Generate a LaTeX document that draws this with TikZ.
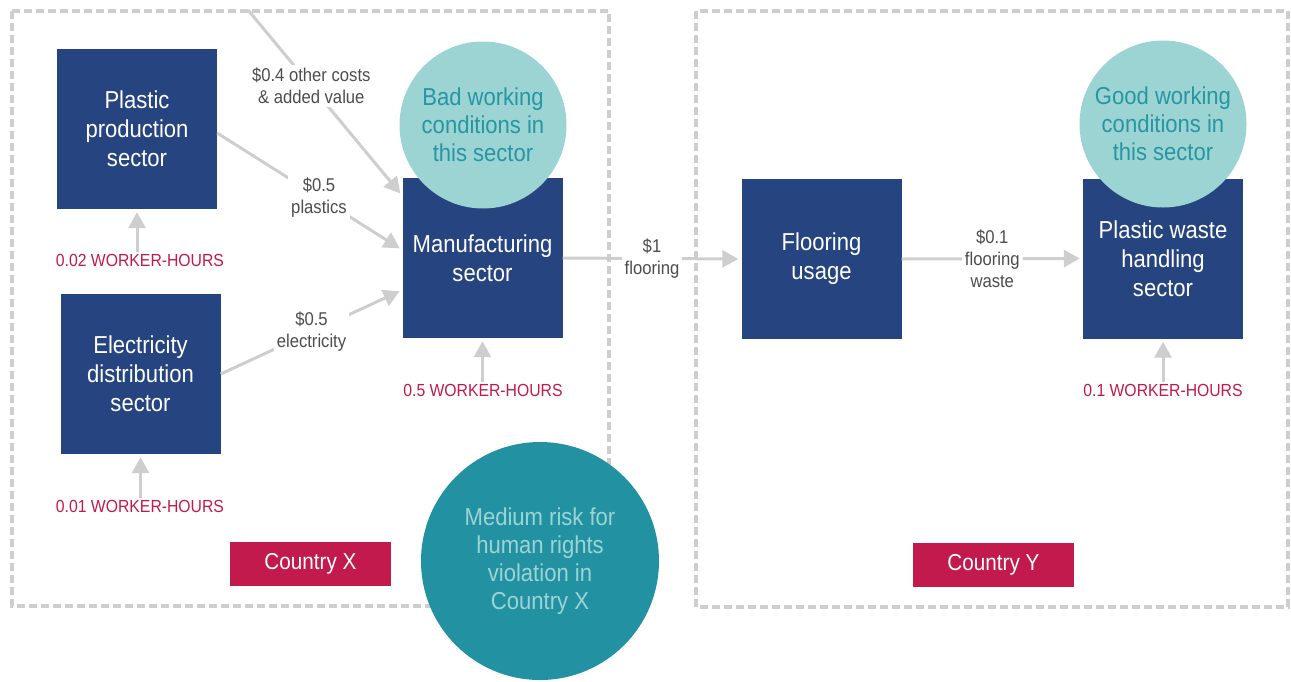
\documentclass[tikz,border=0pt]{standalone}
\usepackage{fontspec}
\setmainfont{Liberation Sans}[FakeStretch=0.9]
\usetikzlibrary{arrows.meta, positioning, calc}

\definecolor{sectorblue}{RGB}{38,69,128}
\definecolor{crimson}{RGB}{194,26,76}
\definecolor{paleteal}{RGB}{156,212,212}
\definecolor{deepteal}{RGB}{34,146,162}
\definecolor{darkteal}{RGB}{38,150,163}
\definecolor{linegrey}{RGB}{206,206,206}
\definecolor{textgrey}{RGB}{77,77,77}

\tikzset{
    sector/.style  = {fill=sectorblue, text=white, align=center, inner sep=0pt,
                      minimum width=160pt, minimum height=160pt,
                      font=\fontsize{24.5}{29}\selectfont},
    bubble/.style  = {circle, fill=paleteal, text=darkteal, align=center, inner sep=0pt,
                      minimum size=167pt, font=\fontsize{24.5}{28}\selectfont},
    border/.style  = {draw=linegrey, line width=3.5pt, dash pattern=on 8pt off 4pt},
    flow/.style    = {draw=linegrey, line width=3pt, shorten >=3pt,
                      -{Triangle[length=16pt, width=17pt]}},
    money/.style   = {fill=white, text=textgrey, align=center, inner sep=3pt,
                      font=\fontsize{18.5}{22}\selectfont},
    hours/.style   = {text=crimson, inner sep=2pt, font=\fontsize{17.5}{20}\selectfont},
    country/.style = {fill=crimson, text=white, minimum width=161pt, minimum height=44pt,
                      inner sep=0pt, font=\fontsize{23}{26}\selectfont}
}

\begin{document}
\begin{tikzpicture}[x=1pt, y=-1pt]

    \useasboundingbox (0,0) rectangle (1291,681);

    % country borders
    \draw[border] (12,11) rectangle (609,606);
    \draw[border] (696,11) rectangle (1288,607);

    % sectors
    \node[sector] (plastic)  at (137,129)   {Plastic\\production\\sector};
    \node[sector] (elec)     at (140.5,374) {Electricity\\distribution\\sector};
    \node[sector] (manuf)    at (482.5,258) {Manufacturing\\sector};
    \node[sector] (flooring) at (821.5,259) {Flooring\\usage};
    \node[sector] (waste)    at (1163,258.5) {Plastic waste\\handling\\sector};

    \coordinate (costs) at (248,10);

    % money flows
    \draw[flow] (costs) -- node[money, pos=.41] {\$0.4 other costs\\\& added value}
        ([yshift=-18pt]manuf.north west);
    \draw[flow] (plastic.east |- 0,133) -- node[money, pos=.55] {\$0.5\\plastics}
        ([yshift=8pt]manuf.west);
    \draw[flow] (elec.east) -- node[money, pos=.5] {\$0.5\\electricity}
        ([yshift=-32pt]manuf.west);
    \draw[flow] (manuf.east) -- node[money] {\$1\\flooring} (flooring.west);
    \draw[flow] (flooring.east) -- node[money] {\$0.1\\flooring\\waste} (waste.west);

    % labour
    \node[hours] (wh1) at (140,260)  {0.02 WORKER-HOURS};
    \node[hours] (wh2) at (140,506)  {0.01 WORKER-HOURS};
    \node[hours] (wh3) at (483,390)  {0.5 WORKER-HOURS};
    \node[hours] (wh4) at (1163,390) {0.1 WORKER-HOURS};
    \draw[flow] (wh1.north -| plastic.south) -- (plastic.south);
    \draw[flow] (wh2.north -| elec.south) -- (elec.south);
    \draw[flow] (wh3.north -| manuf.south) -- (manuf.south);
    \draw[flow] (wh4.north -| waste.south) -- (waste.south);

    % working conditions
    \node[bubble] (bad)  at (483,125)  {Bad working\\conditions in\\this sector};
    \node[bubble] (good) at (1163,124) {Good working\\conditions in\\this sector};

    \node[country] (cx) at (310.5,564) {Country X};
    \node[country] (cy) at (993.5,565) {Country Y};

    \node[bubble, fill=deepteal, text=paleteal, minimum size=238pt] (risk) at (540,561)
        {Medium risk for\\human rights\\violation in\\Country X};

\end{tikzpicture}
\end{document}
